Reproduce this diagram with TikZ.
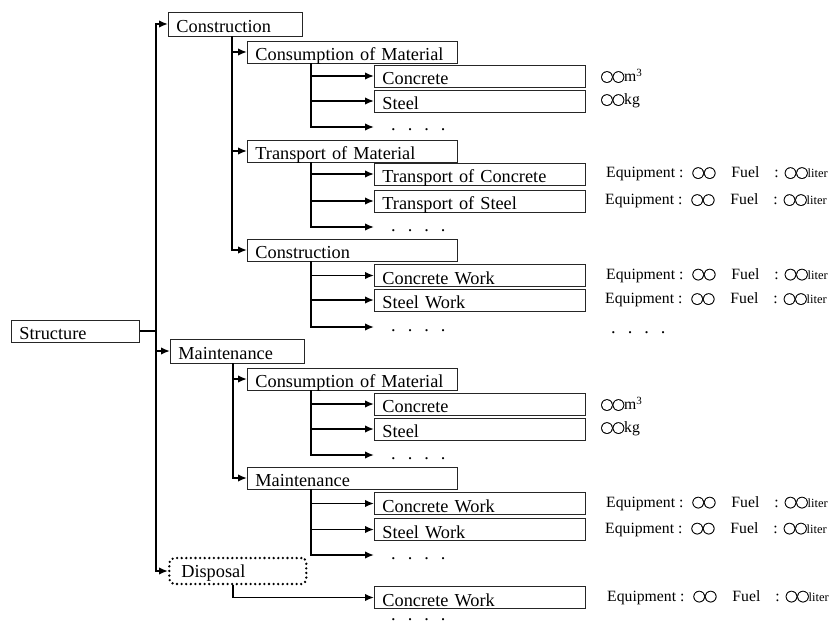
\documentclass[tikz,border=0pt]{standalone}
\usepackage{fontspec}
\setmainfont{Liberation Serif}
\newfontfamily\circfont[FakeBold=1.2]{Noto Sans CJK JP}
\usetikzlibrary{arrows.meta}

\newcommand{\cir}{\makebox[11.5pt]{\circfont\fontsize{12.3}{12.3}\selectfont ◯}}
\newcommand{\cc}{\cir\cir}
\newcommand{\dotrow}{.\hspace{12pt}.\hspace{12pt}.\hspace{12pt}.}
\newcommand{\equip}{Equipment\hspace{4pt}:\hspace{9pt}\cc\hspace{16pt}Fuel\hspace{15pt}:\hspace{6pt}\cc{\fontsize{12.5}{12.5}\selectfont liter}}

\begin{document}
\begin{tikzpicture}[x=1pt, y=-1pt,
		basic/.style = {draw=black!85, line width=0.8pt, rectangle, anchor=west, align=left, inner xsep=8pt, inner ysep=0pt, text height=19.5pt, text depth=2.5pt, font=\fontsize{18.3}{20}\selectfont},
		root/.style  = {basic, text width=112pt},
		top/.style   = {basic, text width=118pt, text height=20.5pt, text depth=3.5pt},
		dsp/.style   = {basic, draw=black, dash pattern=on 0pt off 4.6pt, line cap=round, line width=2.6pt, rounded corners=5pt, inner xsep=12pt, text width=113pt, text height=19pt, text depth=7pt},
		mid/.style   = {basic, text width=194pt},
		leaf/.style  = {basic, text width=195pt},
		more/.style  = {anchor=west, inner xsep=17pt, inner ysep=0pt, text height=8pt, text depth=0pt, font=\fontsize{18.3}{20}\selectfont},
		note/.style  = {anchor=west, inner sep=0pt, font=\fontsize{15.7}{18}\selectfont},
		link/.style  = {line width=1.7pt},
		arr/.style   = {link, -{Latex[length=9pt,width=7.5pt]}}]
		
		\useasboundingbox (0,0) rectangle (835,623);
		
		% root and the first level
		\node[root] (str) at (11,331) {Structure};
		\node[top] (con) at (168,24) {Construction};
		\node[top] (mnt) at (170,351) {Maintenance};
		\node[dsp] (dsp) at (168,571) {Disposal};
		
		% the second level
		\node[mid] (con1) at (247,52) {Consumption of Material};
		\node[mid] (con2) at (247,151) {Transport of Material};
		\node[mid] (con3) at (247,250) {Construction};
		\node[mid] (mnt1) at (247,379) {Consumption of Material};
		\node[mid] (mnt2) at (247,478) {Maintenance};
		
		% the third level
		\begin{scope}[every node/.style={leaf}]
		\node (con11) at (374,76) {Concrete};
		\node (con12) at (374,101) {Steel};
		\node (con21) at (374,174) {Transport of Concrete};
		\node (con22) at (374,201) {Transport of Steel};
		\node (con31) at (374,275.5) {Concrete Work};
		\node (con32) at (374,300) {Steel Work};
		\node (mnt11) at (374,404) {Concrete};
		\node (mnt12) at (374,429) {Steel};
		\node (mnt21) at (374,503.5) {Concrete Work};
		\node (mnt22) at (374,529.5) {Steel Work};
		\node (dsp1) at (374,597.5) {Concrete Work};
		\end{scope}
		
		\begin{scope}[every node/.style={more}]
		\node (con13) at (374,127) {\dotrow};
		\node (con23) at (374,227) {\dotrow};
		\node (con33) at (374,327) {\dotrow};
		\node (mnt13) at (374,455) {\dotrow};
		\node (mnt23) at (374,555) {\dotrow};
		\node (dsp2) at (374,616) {\dotrow};
		\node (conx) at (594,329) {\dotrow};
		\end{scope}
		
		% quantities on the right
		\node[note] (q11) at (601,76) {\cc m\textsuperscript{3}};
		\node[note] (q12) at (601,101) {\cc kg};
		\node[note] (q21) at (606,174) {\equip};
		\node[note] (q22) at (605,201) {\equip};
		\node[note] (q31) at (606,275.5) {\equip};
		\node[note] (q32) at (605,300) {\equip};
		\node[note] (q41) at (601,404) {\cc m\textsuperscript{3}};
		\node[note] (q42) at (601,429) {\cc kg};
		\node[note] (q51) at (606,503.5) {\equip};
		\node[note] (q52) at (605,529.5) {\equip};
		\node[note] (q61) at (607,597.5) {\equip};
		
		% lines from the root to the first level
		\coordinate (t) at ([xshift=16pt]str.east);
		\draw[link] (str.east) -- (t);
		\foreach \n in {con,mnt,dsp}
		\draw[arr] (t) |- (\n.west);
		
		% lines from the first level to the second level
		\foreach \n in {1,2,3}
		\draw[arr] ([xshift=64pt]con.south west) |- (con\n.west);
		
		\foreach \n in {1,2}
		\draw[arr] ([xshift=63pt]mnt.south west) |- (mnt\n.west);
		
		\draw[arr] ([xshift=65pt]dsp.south west) |- (dsp1.west);
		
		% lines from the second level to the third level
		\foreach \p in {con1,con2,con3,mnt1,mnt2}
		\foreach \n in {1,2,3}
		\draw[arr] ([xshift=64pt]\p.south west) |- (\p\n.west);
		
	\end{tikzpicture}
\end{document}
